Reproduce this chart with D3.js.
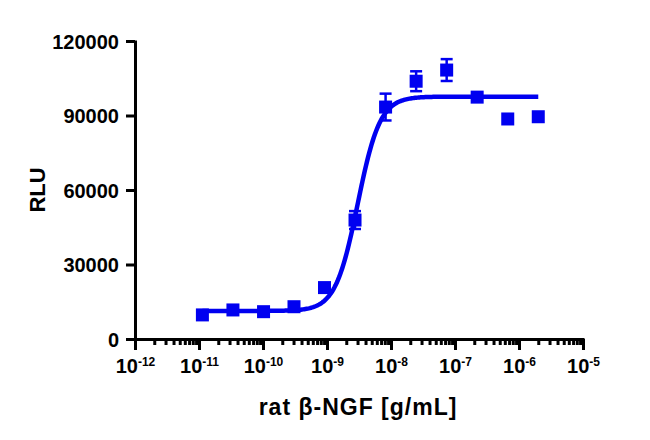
<!DOCTYPE html>
<html><head><meta charset="utf-8">
<script src="https://cdn.jsdelivr.net/npm/d3@7"></script>
<style>
body{margin:0;background:#fff;}
svg{display:block;font-family:"Liberation Sans",Arial,sans-serif;font-weight:bold;}
</style></head>
<body><svg id="c" width="650" height="440"></svg>
<script>
// Data
const concentrations = [1.13e-11, 3.39e-11, 1.02e-10, 3.05e-10, 9.14e-10, 2.74e-9, 8.23e-9, 2.47e-8, 7.41e-8, 2.22e-7, 6.67e-7, 2.0e-6];
const rluMeans = [9700, 11700, 11000, 13000, 20700, 47900, 93400, 103800, 108300, 97400, 88600, 89500];
const rluErrors = [0, 0, 0, 0, 800, 3600, 5400, 4000, 4400, 0, 0, 0];
const yTicks = [0, 30000, 60000, 90000, 120000];
const xDecades = [-12, -11, -10, -9, -8, -7, -6, -5];
// 4PL fit parameters
const fitBottom = 11300, fitTop = 97600, fitLogEC50 = -8.52, fitHill = 2.5;

const svg = d3.select("#c");
const blue = "#0000f0";
const x = d3.scaleLog().domain([1e-12, 1e-5]).range([135, 583]);
const y = d3.scaleLinear().domain([0, 120000]).range([339, 41]);

// Minor x ticks
const minor = [];
for (let d = -12; d < -5; d++) for (let k = 2; k <= 9; k++) minor.push(k * Math.pow(10, d));
const gxm = svg.append("g").attr("transform", "translate(0,339)")
  .call(d3.axisBottom(x).tickValues(minor).tickSize(6).tickSizeOuter(0).tickFormat(() => ""));
gxm.select(".domain").remove();
gxm.selectAll("line").attr("stroke", "#000").attr("stroke-width", 3);

// Major x ticks
const gx = svg.append("g").attr("transform", "translate(0,339)")
  .call(d3.axisBottom(x).tickValues(xDecades.map(e => Math.pow(10, e))).tickSize(11).tickSizeOuter(0).tickFormat(() => ""));
gx.select(".domain").attr("stroke", "#000").attr("stroke-width", 3).attr("d", "M133.5,0.5H584.5");
gx.selectAll("line").attr("stroke", "#000").attr("stroke-width", 3);
gx.selectAll(".tick text").remove();
gx.selectAll(".tick").each(function(d, i) {
  const t = d3.select(this).append("text").attr("y", 34).attr("text-anchor", "middle")
    .attr("fill", "#000").style("font-size", "20px");
  t.append("tspan").text("10");
  t.append("tspan").attr("dy", "-7").style("font-size", "12px").text(String(xDecades[i]));
});

// Y axis
const gy = svg.append("g").attr("transform", "translate(135,0)")
  .call(d3.axisLeft(y).tickValues(yTicks).tickSize(9).tickSizeOuter(0).tickPadding(7).tickFormat(d3.format("d")));
gy.select(".domain").attr("stroke", "#000").attr("stroke-width", 3).attr("d", "M0.5,40.5V340.5");
gy.selectAll("line").attr("stroke", "#000").attr("stroke-width", 3);
gy.selectAll("text").attr("fill", "#000").style("font-size", "20px").attr("dy", "0.36em");

// Axis titles
svg.append("text").attr("x", 358).attr("y", 415).attr("text-anchor", "middle")
  .style("font-size", "23px").style("letter-spacing", "1px").text("rat β-NGF [g/mL]");
svg.append("text").attr("transform", "translate(45,190) rotate(-90)").attr("text-anchor", "middle")
  .style("font-size", "22px").text("RLU");

// Fitted curve
const lx0 = Math.log10(concentrations[0]), lx1 = Math.log10(concentrations[concentrations.length - 1]);
const curvePts = d3.range(0, 301).map(i => {
  const lx = lx0 + (lx1 - lx0) * i / 300;
  return [Math.pow(10, lx), fitBottom + (fitTop - fitBottom) / (1 + Math.pow(10, (fitLogEC50 - lx) * fitHill))];
});
svg.append("path").datum(curvePts)
  .attr("d", d3.line().x(d => x(d[0])).y(d => y(d[1])))
  .attr("fill", "none").attr("stroke", blue).attr("stroke-width", 4.5);

// Error bars
const pts = concentrations.map((c, i) => ({c, m: rluMeans[i], e: rluErrors[i]}));
const eb = svg.append("g").attr("stroke", blue).attr("stroke-width", 2.5);
pts.filter(p => p.e > 0).forEach(p => {
  const cx = x(p.c);
  eb.append("line").attr("x1", cx).attr("x2", cx).attr("y1", y(p.m + p.e)).attr("y2", y(p.m - p.e));
  [p.m + p.e, p.m - p.e].forEach(v => eb.append("line").attr("x1", cx - 6).attr("x2", cx + 6).attr("y1", y(v)).attr("y2", y(v)));
});

// Markers
svg.append("g").selectAll("rect").data(pts).join("rect")
  .attr("x", d => x(d.c) - 6.5).attr("y", d => y(d.m) - 6.5)
  .attr("width", 13).attr("height", 13).attr("fill", blue);
</script></body></html>
